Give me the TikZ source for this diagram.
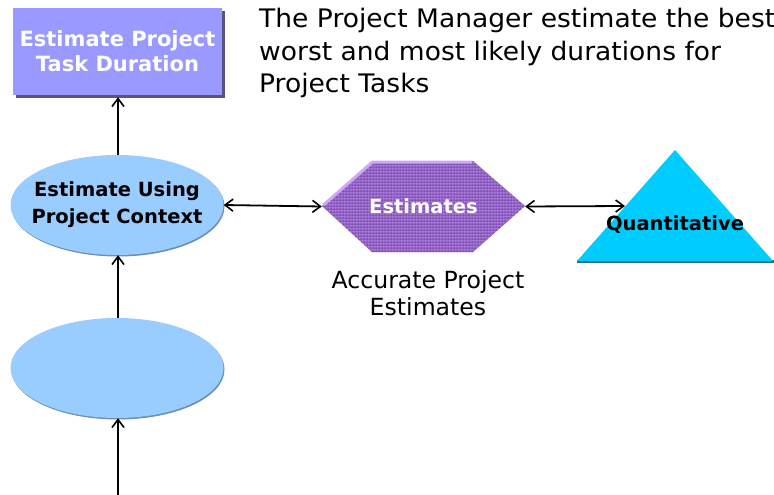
\documentclass[tikz,border=0pt]{standalone}
\usepackage{fontspec}
\setmainfont{DejaVu Sans}
\newfontfamily\notefont[FakeStretch=1.04]{DejaVu Sans}
\usetikzlibrary{arrows.meta,shapes.geometric}

\definecolor{boxblue}{HTML}{9999FF}
\definecolor{boxshadow}{HTML}{55557F}
\definecolor{ovalblue}{HTML}{99CCFF}
\definecolor{ovalshadow}{HTML}{6C8FB5}
\definecolor{hexpurple}{HTML}{9562C6}
\definecolor{hexgrid}{HTML}{7A4AAE}
\definecolor{hexgridlight}{HTML}{B48AE0}
\definecolor{hexlight}{HTML}{CDA8F5}
\definecolor{tricyan}{HTML}{00CCFF}
\definecolor{trishadow}{HTML}{2A6A80}

\tikzset{
  x=1pt, y=-1pt,
  barbtip/.tip={Straight Barb[length=8pt,width=12pt,line width=1.6pt]},
  boldtxt/.style={font=\bfseries\fontsize{19.5}{27}\selectfont, align=center},
  plaintxt/.style={font=\fontsize{23.6}{27}\selectfont, inner sep=0pt},
  notetxt/.style={font=\notefont\fontsize{25.5}{27}\selectfont, inner sep=0pt},
  taskbox/.style={rectangle, fill=boxblue, minimum width=209pt, minimum height=87pt,
    text=white, font=\bfseries\fontsize{21}{25}\selectfont, align=center, inner sep=0pt},
  oval/.style={ellipse, fill=ovalblue, minimum width=213pt, minimum height=100pt,
    inner sep=0pt},
  hexlabel/.style={rectangle, minimum width=203pt, minimum height=91pt, inner sep=0pt,
    text=white, boldtxt},
  trilabel/.style={inner sep=0pt, boldtxt},
  link/.style={line width=1.8pt, -{barbtip}},
  twoway/.style={line width=1.8pt, {barbtip}-{barbtip}},
}

\begin{document}
\begin{tikzpicture}
\useasboundingbox (0,0) rectangle (774,495);
\fill[white] (0,0) rectangle (774,495);
\clip (0,0) rectangle (774,495);

% task box with its hard shadow
\fill[boxshadow] (16,11) rectangle (225,98);
\node[taskbox] (task) at (117.5,51.5) {Estimate Project\\Task Duration};

% ovals with a soft lower edge
\fill[ovalshadow] (118,206.5) ellipse [x radius=106.5pt, y radius=50pt];
\node[oval, label={[boldtxt]center:Estimate Using\\Project Context}] (ctx) at (117,205) {};
\fill[ovalshadow] (118,369.5) ellipse [x radius=106.5pt, y radius=50pt];
\node[oval] (src) at (117,368) {};

% hexagon with woven texture
\fill[hexpurple] (322,206) -- (372,161) -- (473,161) -- (525,206) -- (473,252) -- (372,252) -- cycle;
\begin{scope}
  \clip (322,206) -- (372,161) -- (473,161) -- (525,206) -- (473,252) -- (372,252) -- cycle;
  \foreach \gx in {322,325,...,526} {
    \draw[hexgrid, line width=0.7pt, opacity=0.45] (\gx,160) -- (\gx,253);
    \draw[hexgridlight, line width=0.5pt, opacity=0.45] (\gx+1.5,160) -- (\gx+1.5,253);}
  \foreach \gy in {161,164,...,253} {
    \draw[hexgrid, line width=0.7pt, opacity=0.45] (321,\gy) -- (526,\gy);
    \draw[hexgridlight, line width=0.5pt, opacity=0.45] (321,\gy+1.5) -- (526,\gy+1.5);}
\end{scope}
\draw[hexlight, line width=3pt, line join=round] (323.5,205) -- (372.5,162) -- (472,162);
\node[hexlabel] (est) at (423.5,206.5) {Estimates};

% triangle
\fill[trishadow] (577,260) -- (774,260) -- (774,263) -- (577,263) -- cycle;
\fill[tricyan] (675,150) -- (773,261) -- (577,261) -- cycle;
\node[trilabel] (quant) at (675,224.5) {Quantitative};
\coordinate (triedge) at (625,206);

% texts
\node[notetxt, anchor=base west] (note1) at (259,28) {The Project Manager estimate the best};
\node[notetxt, anchor=base west] (note2) at (259,61) {worst and most likely durations for};
\node[notetxt, anchor=base west] (note3) at (259,92.5) {Project Tasks};
\node[plaintxt, anchor=base] (acc1) at (428,288) {Accurate Project};
\node[plaintxt, anchor=base] (acc2) at (428,315) {Estimates};

% connectors
\coordinate (feed) at (118,495);
\draw[link] (feed) -- (src.south -| feed);
\draw[link] (src.north -| feed) -- (ctx.south -| feed);
\draw[link] (ctx.north -| feed) -- ([yshift=-2pt]task.south -| feed);
\draw[twoway] (ctx.east) -- (est.west);
\draw[twoway] (est.east) -- (triedge);
\end{tikzpicture}
\end{document}
